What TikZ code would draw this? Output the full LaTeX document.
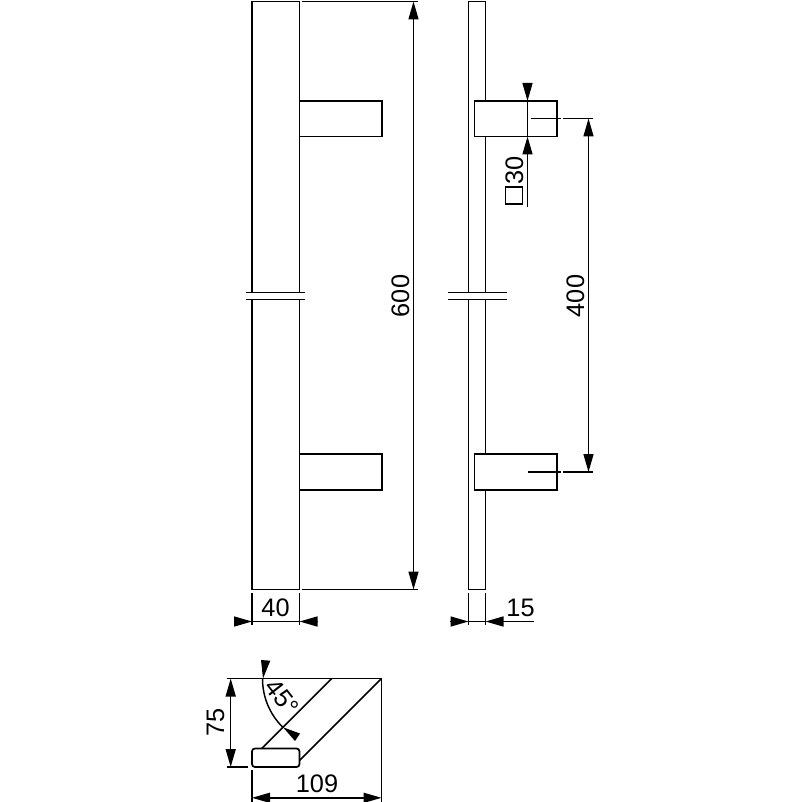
\documentclass[tikz,border=0pt]{standalone}
\usepackage{fontspec}
\setmainfont{Liberation Sans}
\usetikzlibrary{arrows.meta}
\tikzset{
  part/.style={line width=1.3pt,line cap=butt,line join=miter},
  dimline/.style={line width=1.1pt},
  both/.style={dimline,{Triangle[length=13.5pt,width=7.5pt]}-{Triangle[length=13.5pt,width=7.5pt]}},
  head/.style={dimline,-{Triangle[length=13.5pt,width=7.5pt]}},
  dimtext/.style={inner sep=0pt,font=\fontsize{19pt}{21pt}\selectfont},
  wedge/.style={fill=black,draw=none}
}
\begin{document}
\begin{tikzpicture}[x=0.75pt,y=-0.75pt]
\useasboundingbox (0,0) rectangle (802,802);
% front view
\draw[part] (252,292.5) -- (252,1.5) -- (299.5,1.5) -- (299.5,101);
\draw[part] (299.5,136.5) -- (299.5,292.5);
\draw[part] (252,299.5) -- (252,589.5) -- (299.5,589.5) -- (299.5,490);
\draw[part] (299.5,454) -- (299.5,299.5);
\draw[part] (299.5,101) rectangle (382,136.5);
\draw[part] (299.5,454) rectangle (382,490);
\draw[part] (246,292.5) -- (305,292.5) (246,299.5) -- (305,299.5);
% side view
\draw[part] (468.5,292.5) -- (468.5,1.5) -- (485.5,1.5) -- (485.5,101);
\draw[part] (485.5,136.5) -- (485.5,292.5);
\draw[part] (468.5,299.5) -- (468.5,589.5) -- (485.5,589.5) -- (485.5,490);
\draw[part] (485.5,454) -- (485.5,299.5);
\draw[part] (474.5,101) rectangle (557,136.5);
\draw[part] (474.5,454) rectangle (557,490);
\draw[part] (448,292.5) -- (507,292.5) (448,299.5) -- (507,299.5);
% 600
\draw[dimline] (302,1.5) -- (418,1.5) (302,589.5) -- (418,589.5);
\draw[both] (413.5,1.5) -- (413.5,589.5);
\node[dimtext,rotate=90] (t600) at (400.5,296) {600};
% 400
\draw[dimline] (530.5,118.5) -- (560.5,118.5) (563,118.5) -- (593,118.5);
\draw[dimline] (528,472) -- (560.5,472) (563,472) -- (593,472);
\draw[both] (588.5,118.5) -- (588.5,472);
\node[dimtext,rotate=90] (t400) at (575.5,296) {400};
% square 30
\draw[head] (527.5,83) -- (527.5,101);
\draw[dimline] (527.5,101) -- (527.5,136.5);
\draw[head] (527.5,207) -- (527.5,136.5);
\node[dimtext,rotate=90] (t30) at (514.5,170) {30};
\node[draw,line width=1.1pt,minimum size=13pt,inner sep=0pt] (sq30) at (514,195.5) {};
% 40
\draw[dimline] (252,593) -- (252,625) (299.5,593) -- (299.5,625);
\draw[dimline] (252,621.5) -- (299.5,621.5);
\draw[head] (234,621.5) -- (252,621.5);
\draw[head] (318,621.5) -- (299.5,621.5);
\node[dimtext] (t40) at (275.5,607.5) {40};
% 15
\draw[dimline] (468.5,593) -- (468.5,625) (485.5,593) -- (485.5,625);
\draw[dimline] (468.5,621.5) -- (485.5,621.5);
\draw[head] (450,621.5) -- (468.5,621.5);
\draw[head] (534,621.5) -- (485.5,621.5);
\node[dimtext] (t15) at (520.5,607.5) {15};
% section view
\draw[dimline] (226.5,678.5) -- (381.5,678.5) -- (381.5,802);
\draw[dimline] (331.7,678.5) -- (261.7,748.5);
\draw[dimline] (381.5,678.5) -- (299.5,760.5);
\draw[part,rounded corners=2.2pt] (252,748.5) rectangle (299.5,767);
% 75
\draw[dimline] (226.5,767) -- (248,767);
\draw[both] (230.7,678.5) -- (230.7,767);
\node[dimtext,rotate=90] (t75) at (215.5,722) {75};
% 109
\draw[dimline] (252,770) -- (252,802);
\draw[both] (252,797.8) -- (381.5,797.8);
\node[dimtext] (t109) at (317,784) {109};
% 45 degrees
\draw[dimline] (262.5,678.5) .. controls (262.5,696.9) and (269.6,714.1) .. (282.6,727.1);
\fill[wedge] (261,660) -- (270.3,660.7) -- (263,678.5) -- cycle;
\fill[wedge] (283,727.3) -- (300,733.5) -- (295,741) -- cycle;
\node[dimtext,rotate=-52] (t45) at (282,697) {45°};
\end{tikzpicture}
\end{document}
